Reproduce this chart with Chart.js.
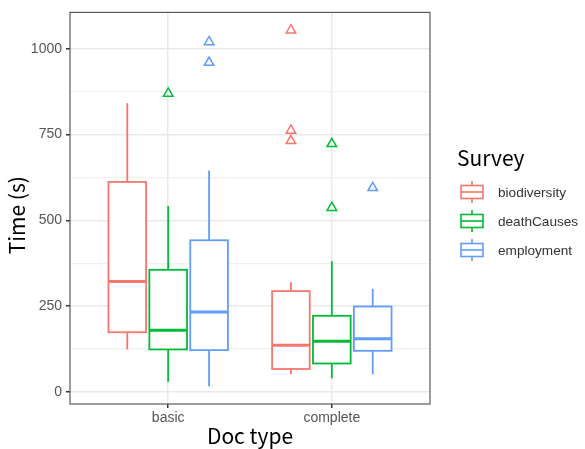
<!DOCTYPE html>
<html>
<head>
<meta charset="utf-8">
<script src="https://cdn.jsdelivr.net/npm/chart.js@4"></script>
<style>
html, body { margin: 0; padding: 0; background: #fff; }
</style>
</head>
<body>
<canvas id="chart" width="585" height="449"></canvas>
<script>
var categories = ['basic', 'complete'];
var surveys = ['biodiversity', 'deathCauses', 'employment'];
var colores = ['#F8766D', '#00BA38', '#619CFF'];

// one value per category (basic, complete)
var whiskerLow  = [[124, 52], [30, 40], [17, 52]];
var q1          = [[174, 67], [124, 83], [122, 120]];
var medians     = [[322, 136], [180, 148], [233, 155]];
var q3          = [[612, 294], [356, 222], [442, 249]];
var whiskerHigh = [[841, 320], [542, 381], [645, 300]];
var outliers = [
    [[], [1054, 762, 732]],
    [[870], [723, 537]],
    [[1020, 960], [595]]
];
var yTicks = [0, 125, 250, 375, 500, 625, 750, 875, 1000];

var dodge = [-0.25, 0, 0.25];
var boxHalf = 0.115;
var titleFont = '"Noto Sans CJK JP", "Liberation Sans", sans-serif';
var textFont = '"Liberation Sans", Arial, sans-serif';

var datasets = [];
for (var s = 0; s < surveys.length; s++) {
    var puntos = [];
    for (var c = 0; c < categories.length; c++) {
        for (var k = 0; k < outliers[s][c].length; k++) {
            puntos.push({ x: c + 1 + dodge[s], y: outliers[s][c][k] });
        }
    }
    datasets.push({
        label: surveys[s],
        data: puntos,
        pointStyle: 'triangle',
        pointRadius: 5.5,
        borderColor: colores[s],
        backgroundColor: 'rgba(0,0,0,0)',
        borderWidth: 1.5
    });
}

var boxPlugin = {
    id: 'boxes',
    beforeDatasetsDraw: function (chart) {
        var ctx = chart.ctx;
        var xs = chart.scales.x, ys = chart.scales.y;
        var half = xs.getPixelForValue(boxHalf) - xs.getPixelForValue(0);
        ctx.save();
        for (var s = 0; s < surveys.length; s++) {
            for (var c = 0; c < categories.length; c++) {
                var cx = xs.getPixelForValue(c + 1 + dodge[s]);
                var yLow = ys.getPixelForValue(whiskerLow[s][c]);
                var yQ1 = ys.getPixelForValue(q1[s][c]);
                var yMed = ys.getPixelForValue(medians[s][c]);
                var yQ3 = ys.getPixelForValue(q3[s][c]);
                var yHigh = ys.getPixelForValue(whiskerHigh[s][c]);
                ctx.strokeStyle = colores[s];
                ctx.lineWidth = 1.8;
                ctx.beginPath();
                ctx.moveTo(cx, yHigh); ctx.lineTo(cx, yQ3);
                ctx.moveTo(cx, yQ1); ctx.lineTo(cx, yLow);
                ctx.stroke();
                ctx.fillStyle = '#ffffff';
                ctx.fillRect(cx - half, yQ3, 2 * half, yQ1 - yQ3);
                ctx.strokeRect(cx - half, yQ3, 2 * half, yQ1 - yQ3);
                ctx.lineWidth = 3;
                ctx.beginPath();
                ctx.moveTo(cx - half, yMed); ctx.lineTo(cx + half, yMed);
                ctx.stroke();
            }
        }
        ctx.restore();
    },
    afterDraw: function (chart) {
        var ctx = chart.ctx;
        var a = chart.chartArea;
        ctx.save();
        // panel border
        ctx.strokeStyle = '#5a5a5a';
        ctx.lineWidth = 1.2;
        ctx.strokeRect(a.left, a.top, a.right - a.left, a.bottom - a.top);
        // legend
        ctx.fillStyle = '#000';
        ctx.font = '21px ' + titleFont;
        ctx.textBaseline = 'alphabetic';
        ctx.textAlign = 'left';
        ctx.fillText('Survey', 457, 166);
        ctx.font = '13.6px ' + textFont;
        ctx.textBaseline = 'middle';
        for (var i = 0; i < surveys.length; i++) {
            var cy = 192 + i * 29;
            ctx.strokeStyle = colores[i];
            ctx.lineWidth = 1.6;
            ctx.beginPath();
            ctx.moveTo(472, cy - 11); ctx.lineTo(472, cy - 6.5);
            ctx.moveTo(472, cy + 6.5); ctx.lineTo(472, cy + 11);
            ctx.stroke();
            ctx.strokeRect(461, cy - 6.5, 22, 13);
            ctx.beginPath();
            ctx.moveTo(461, cy); ctx.lineTo(483, cy);
            ctx.stroke();
            ctx.fillStyle = '#333';
            ctx.fillText(surveys[i], 498, cy + 1);
        }
        ctx.restore();
    }
};

var ctx = document.getElementById('chart').getContext('2d');
var grafico = new Chart(ctx, {
    type: 'scatter',
    data: { datasets: datasets },
    plugins: [boxPlugin],
    options: {
        responsive: false,
        animation: false,
        layout: { padding: { top: 12, right: 155, left: 0, bottom: 0 } },
        plugins: { legend: { display: false }, tooltip: { enabled: false } },
        scales: {
            x: {
                type: 'linear',
                min: 0.4,
                max: 2.6,
                afterBuildTicks: function (axis) {
                    axis.ticks = [{ value: 1 }, { value: 2 }];
                },
                afterFit: function (axis) { axis.height = 45; },
                border: { display: false },
                grid: { color: '#e9e9e9', lineWidth: 1.5, tickColor: '#333', tickLength: 4 },
                ticks: {
                    padding: 2,
                    color: '#555',
                    font: { family: textFont, size: 14 },
                    callback: function (v) { return categories[v - 1]; }
                },
                title: {
                    display: true,
                    text: 'Doc type',
                    color: '#000',
                    padding: { top: 0, bottom: 0 },
                    font: { family: titleFont, size: 21 }
                }
            },
            y: {
                type: 'linear',
                min: -35,
                max: 1106,
                afterBuildTicks: function (axis) {
                    axis.ticks = yTicks.map(function (v) { return { value: v }; });
                },
                afterFit: function (axis) { axis.width = 70; },
                border: { display: false },
                grid: {
                    color: function (c) { return c.tick && c.tick.value % 250 === 0 ? '#e9e9e9' : '#f0f0f0'; },
                    lineWidth: function (c) { return c.tick && c.tick.value % 250 === 0 ? 1.5 : 1.2; },
                    tickColor: function (c) { return c.tick && c.tick.value % 250 === 0 ? '#333' : 'rgba(0,0,0,0)'; },
                    tickLength: 4
                },
                ticks: {
                    autoSkip: false,
                    padding: 4,
                    color: '#555',
                    font: { family: textFont, size: 14 },
                    callback: function (v) { return v % 250 === 0 ? v : ''; }
                },
                title: {
                    display: true,
                    text: 'Time (s)   ',
                    color: '#000',
                    padding: { top: 4, bottom: 0 },
                    font: { family: titleFont, size: 21 }
                }
            }
        }
    }
});
</script>
</body>
</html>
